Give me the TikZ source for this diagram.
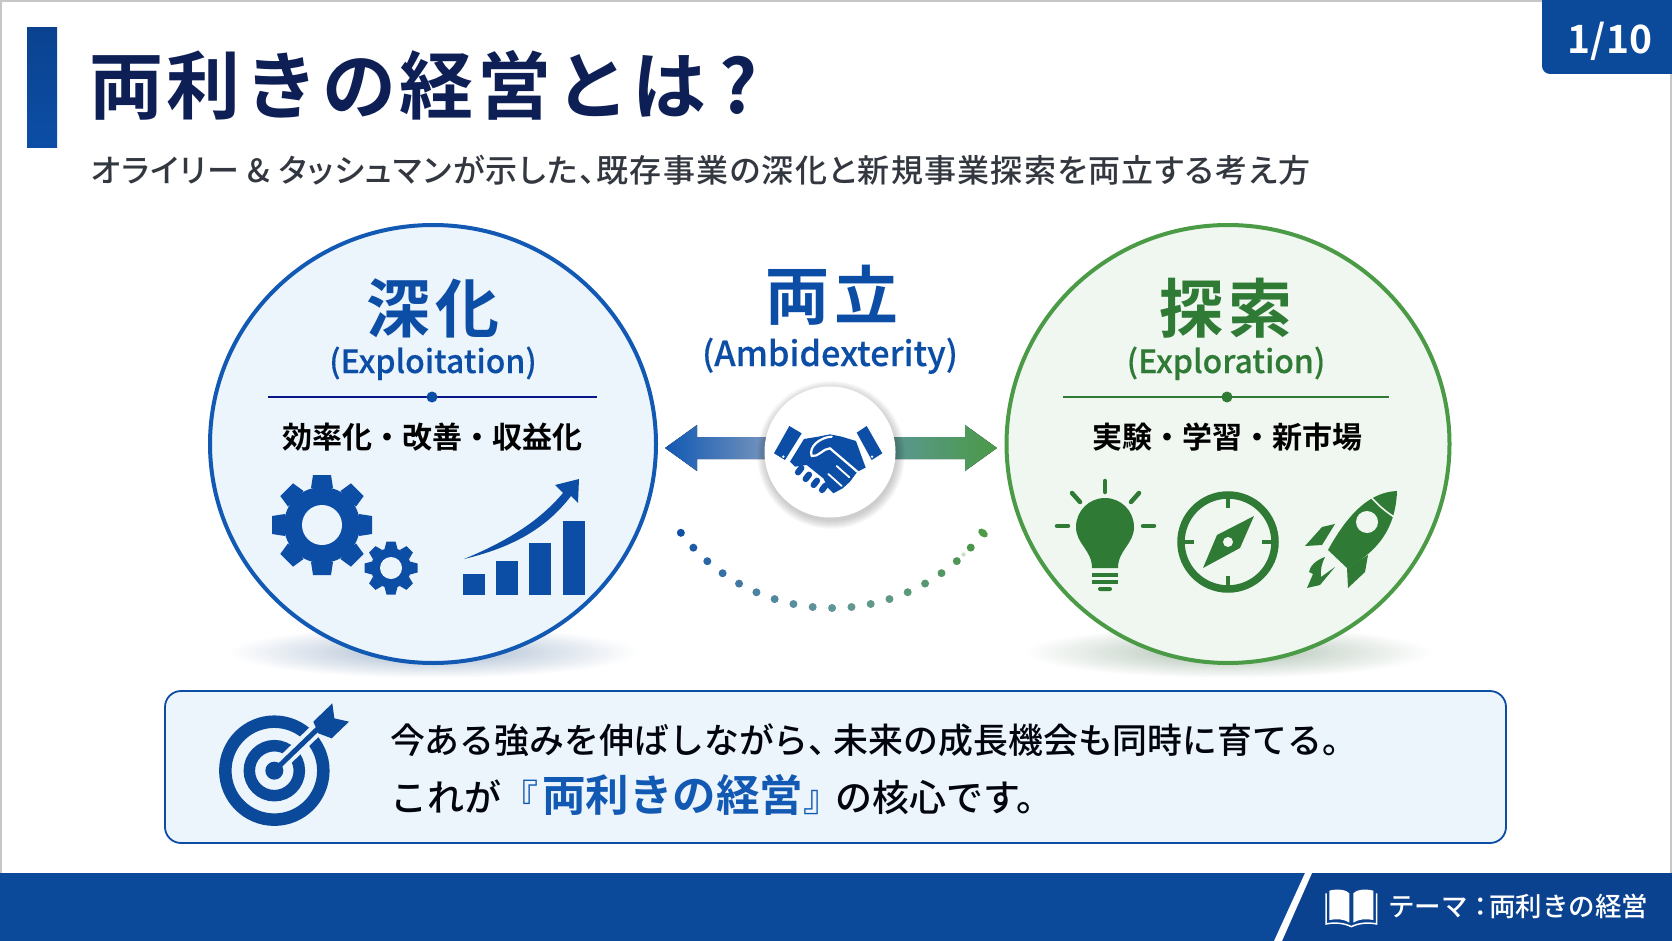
\documentclass[tikz,border=0pt]{standalone}
\usepackage{fontspec}
\usetikzlibrary{shapes.geometric,positioning}

\newfontfamily\cjk{Noto Sans CJK JP}
\newfontfamily\cjkmed{Noto Sans CJK JP Medium}
\newfontfamily\cjkbold{Noto Sans CJK JP Bold}
\newcommand{\fs}[1]{\fontsize{#1}{#1}\selectfont}

\definecolor{navy}{HTML}{0E1F55}
\definecolor{subgray}{HTML}{33373F}
\definecolor{mainblue}{HTML}{0C4EA6}
\definecolor{ringblue}{HTML}{1259B4}
\definecolor{paleblue}{HTML}{ECF4FC}
\definecolor{darkgreen}{HTML}{2F7A35}
\definecolor{ringgreen}{HTML}{4A9A46}
\definecolor{palegreen}{HTML}{EFF7F0}
\definecolor{dotblue}{HTML}{0F4FA8}
\definecolor{dotgreen}{HTML}{4E9A45}
\definecolor{barblue}{HTML}{0B4A9B}
\definecolor{bardark}{HTML}{0A4290}
\definecolor{shadeblue}{HTML}{A6B8CE}
\definecolor{shadegreen}{HTML}{ACBFB0}

\tikzset{
  txt/.style={inner sep=0pt, outer sep=0pt, anchor=base},
  txtl/.style={inner sep=0pt, outer sep=0pt, anchor=base west},
  bigcircle/.style={ellipse, line width=4pt, minimum height=438pt, inner sep=0pt},
  divider/.style={line width=1.4pt},
}

% one toothed gear, centre (#1,#2), body radius #3, tip radius #4, hole #5, half tooth #6
\newcommand{\gearicon}[6]{
  \fill[mainblue] (#1,#2) circle (#3);
  \foreach \a in {0,45,...,315} {
    \begin{scope}[shift={(#1,#2)}, rotate=\a]
      \fill[mainblue] (-#6-2,-#3+1) -- (-#6,-#4) -- (#6,-#4) -- (#6+2,-#3+1) -- cycle;
    \end{scope}
  }
  \fill[paleblue] (#1,#2) circle (#5);
}

\begin{document}
\begin{tikzpicture}[x=1pt,y=-1pt]
\useasboundingbox (0,0) rectangle (1672,941);

% Draw page edge, title bar and page badge
\draw [gray!45, line width=1.5pt] (1,941) -- (1,1) -- (1671,1) -- (1671,941);
\fill [top color=bardark, bottom color=mainblue] (27,28) rectangle (57,148);
\fill [barblue, rounded corners=8pt] (1542,-10) -- (1542,74) -- (1682,74) -- (1682,-10) -- cycle;
\node [txt, text=white] (badge) at (1610,54) {\cjkbold\fs{39}1/10};

\node [txtl, text=navy] (title) at (89,114) {\cjkbold\addfontfeature{LetterSpace=5}\fs{74}両利きの経営とは\hspace{13pt}?};
\node [txtl, text=subgray] (subtitle) at (91,183) {\cjkmed\addfontfeature{RawFeature=+palt,LetterSpace=4}\fs{32}オライリー \& タッシュマンが示した、既存事業の深化と新規事業探索を両立する考え方};

% Draw soft shadows below the two circles
\shade [inner color=shadeblue, outer color=white] (433,652) ellipse (205 and 26);
\shade [inner color=shadegreen, outer color=white] (1228,652) ellipse (205 and 26);

% Left circle
\node [bigcircle, minimum width=446pt, draw=ringblue, fill=paleblue] (deep) at (433,444) {};
\node [txt, text=mainblue] (deeptitle) at (433,332) {\cjkbold\addfontfeature{LetterSpace=8}\fs{64}深化};
\node [txt, text=mainblue] (deepsub) at (433,373) {\cjkmed\addfontfeature{FakeBold=0.3}\fs{32}(Exploitation)};
\coordinate (deepa) at (268,397);
\coordinate (deepb) at (597,397);
\draw [divider, draw=navy!70!blue] (deepa) -- (deepb);
\fill [mainblue] (432,397) circle (5.5);
\node [txt, text=black] (deepwords) at (432,448) {\cjkbold\fs{30}効率化・改善・収益化};

% Gears and bar chart
\gearicon{322}{525}{38}{50}{20}{9}
\gearicon{391}{568}{20}{26.5}{11}{4.5}
\foreach \xa/\ytop in {463/574,496/561,529/543,563/521} {
  \fill [mainblue] (\xa,\ytop) rectangle (\xa+22,595);
}
\fill [mainblue] (464,559) .. controls (510,540) and (540,520) .. (563,493) -- (555,485) -- (579,479) -- (578,503) -- (571,496) .. controls (545,530) and (510,548) .. cycle;

% Centre heading
\node [txt, text=mainblue] (bothtitle) at (832,319) {\cjkbold\addfontfeature{LetterSpace=9}\fs{64}両立};
\node [txt, text=mainblue] (bothsub) at (830,366) {\cjkmed\addfontfeature{FakeBold=0.3}\fs{34.3}(Ambidexterity)};

% Block arrows behind the hub
\fill [left color=ringblue, right color=ringblue!60!gray!70] (665,448) -- (697,425) -- (697,437) -- (770,437) -- (770,459) -- (697,459) -- (697,471) -- cycle;
\fill [left color=ringgreen!55!ringblue!80, right color=ringgreen] (890,437) -- (965,437) -- (965,425) -- (997,448) -- (965,471) -- (965,459) -- (890,459) -- cycle;

% Hub with handshake
\foreach \r in {66,67,...,74} {
  \fill [black, opacity=.025] (831,455) circle (\r);
}
\node [circle, fill=white, minimum size=131pt, inner sep=0pt] (hub) at (830,452) {};
\begin{scope}[shift={(660,240)}, scale=1/3]
\fill [mainblue] (388,558) -- (425,580) -- (375,660) -- (342,640) -- cycle;
\fill [mainblue] (590,578) -- (620,558) -- (667,640) -- (635,660) -- cycle;
\fill [white] (370,650) circle (4);
\fill [white] (636,650) circle (4);
\fill [mainblue] (390,665) -- (432,597) -- (475,590) -- (510,583) -- (545,590) -- (588,603) -- (617,683) -- (592,695) -- (570,725) -- (548,745) -- (520,760) -- (505,745) -- (490,715) -- (440,675) -- (405,680) -- cycle;
% knuckles of the lower hand
\foreach \xa/\ya in {418/692,441/712,465/730,490/745} {
  \draw [mainblue, line width=6.2pt, line cap=round] (\xa+6,\ya-8) -- (\xa-4,\ya+5);
}
\draw [white, line width=2.2pt, line cap=round] (455,648) .. controls (445,620) and (480,592) .. (515,590);
\draw [white, line width=2.2pt, line cap=round] (455,648) .. controls (475,652) and (490,625) .. (510,625) -- (592,695);
\draw [white, line width=1.8pt, line cap=round] (530,678) -- (568,712);
\draw [white, line width=1.8pt, line cap=round] (505,702) -- (545,738);
\end{scope}

% Dotted arc from blue to green
\foreach \i in {0,...,17} {
  \pgfmathsetmacro\dotmix{\i*100/18}
  \pgfmathsetmacro\dotkeep{100-24*sin(\i*180/17)}
  \pgfmathsetmacro\dotang{142.9-\i*5.88}
  \colorlet{dotnow}{dotgreen!\dotmix!dotblue}
  \fill [color=dotnow!\dotkeep!white] ({832+189.5*cos(\dotang)},{418.5+189.5*sin(\dotang)}) circle (4);
}
\fill [dotgreen!30] (963.5,554.5) circle (2.2);
\fill [dotgreen, rotate around={-40:(983,533)}] (983,533) ellipse (5.5 and 3.6);

% Right circle
\node [bigcircle, minimum width=443pt, draw=ringgreen, fill=palegreen] (search) at (1228,444) {};
\node [txt, text=darkgreen] (searchtitle) at (1226,332) {\cjkbold\addfontfeature{LetterSpace=8}\fs{64}探索};
\node [txt, text=darkgreen] (searchsub) at (1226,373) {\cjkmed\addfontfeature{FakeBold=0.3}\fs{32}(Exploration)};
\coordinate (searcha) at (1063,397);
\coordinate (searchb) at (1389,397);
\draw [divider, draw=darkgreen] (searcha) -- (searchb);
\fill [darkgreen] (1227,397) circle (5.5);
\node [txt, text=black] (searchwords) at (1227,448) {\cjkbold\fs{30}実験・学習・新市場};

% Light bulb
\begin{scope}[darkgreen]
\fill (1076,527) arc (180:360:29) .. controls (1134,544) and (1118,550) .. (1118,568) -- (1092,568) .. controls (1092,550) and (1076,544) .. cycle;
\fill (1092,573) rectangle (1118,577);
\fill (1092,580) rectangle (1118,584);
\fill [rounded corners=2pt] (1098,587) rectangle (1112,591);
\draw [line width=4.5pt, line cap=round] (1105,481) -- (1105,492);
\draw [line width=4.5pt, line cap=round] (1072,493) -- (1080,502);
\draw [line width=4.5pt, line cap=round] (1139,493) -- (1131,502);
\draw [line width=4.5pt, line cap=round] (1057,526) -- (1068,526);
\draw [line width=4.5pt, line cap=round] (1143,526) -- (1154,526);

% Compass
\draw [line width=7.5pt] (1228,542) circle (47);
\foreach \ang in {0,90,180,270} {
  \draw [line width=3.5pt] ({1228+44*cos(\ang)},{542+44*sin(\ang)}) -- ({1228+34*cos(\ang)},{542+34*sin(\ang)});
}
\fill (1254,516) -- (1240,548) -- (1203,568) -- (1217,535) -- cycle;
\fill [palegreen] (1228,542) circle (5);

% Rocket
\fill (1397,491) .. controls (1372,492) and (1350,510) .. (1328,550) -- (1347,568) .. controls (1385,548) and (1396,520) .. cycle;
\draw [palegreen, line width=1.6pt] (1371,497) .. controls (1378,505) and (1385,511) .. (1394,517);
\fill [palegreen] (1367,522) circle (11);
\fill (1305,546) -- (1322,527) -- (1335,524) -- (1322,545) -- cycle;
\fill (1368,555) -- (1365,572) -- (1348,588) -- (1347,568) -- cycle;
\fill (1325,557) .. controls (1316,560) and (1310,566) .. (1309,572) -- (1313,574) -- (1307,588) -- (1320,585) -- (1335,567) -- (1321,577) .. controls (1320,570) and (1322,563) .. cycle;
\end{scope}

% Bottom message box
\draw [draw=mainblue, fill=paleblue, line width=1.8pt, rounded corners=16pt] (165,691) rectangle (1506,843);
\begin{scope}[shift={(150,680)}, scale=1/3]
\draw [barblue, line width=12.5pt] (373,272) circle (147);
\draw [barblue, line width=11.5pt] (373,272) circle (75);
\fill [barblue] (373,272) circle (27);
\draw [paleblue, line width=13pt] (400,245) -- (530,120);
\draw [barblue, line width=5pt] (373,272) -- (510,140);
\fill [barblue] (490,125) -- (547,70) -- (553,115) -- (597,125) -- (545,175) -- (505,160) -- cycle;
\end{scope}
\node [txtl, text=black!85!navy] (msgone) at (390,753) {\cjkmed\fs{34.9}今ある強みを伸ばしながら、\hspace{-10pt}未来の成長機会も同時に育てる。};
\node [txtl, text=black!85!navy] (msgtwo) at (390,811) {\cjkmed\fs{37}これが{\color{ringblue}『\hspace{4pt}{\cjkbold\fs{43.5}両利きの経営}』}\hspace{-5pt}の核心です。};

% Footer band
\fill [barblue] (0,873) rectangle (1672,941);
\fill [bardark] (1312,873) -- (1672,873) -- (1672,941) -- (1282,941) -- cycle;
\fill [white] (1305,873) -- (1312,873) -- (1282,941) -- (1274,941) -- cycle;
\begin{scope}[shift={(1250,860)}, scale=1/3]
\fill [white] (238,92) .. controls (265,85) and (290,90) .. (298,100) -- (298,188) .. controls (285,178) and (260,175) .. (238,180) -- cycle;
\fill [white] (370,92) .. controls (343,85) and (318,90) .. (310,100) -- (310,188) .. controls (323,178) and (348,175) .. (370,180) -- cycle;
\draw [white, line width=1.5pt] (228,100) -- (228,192) .. controls (255,186) and (285,190) .. (304,200) .. controls (323,190) and (353,186) .. (380,192) -- (380,100);
\end{scope}
\node [txtl, text=white] (theme) at (1388,916) {\cjkmed\fs{26.5}テーマ\symbol{"FF1A}\hspace{-5pt}両利きの経営};

\end{tikzpicture}
\end{document}
